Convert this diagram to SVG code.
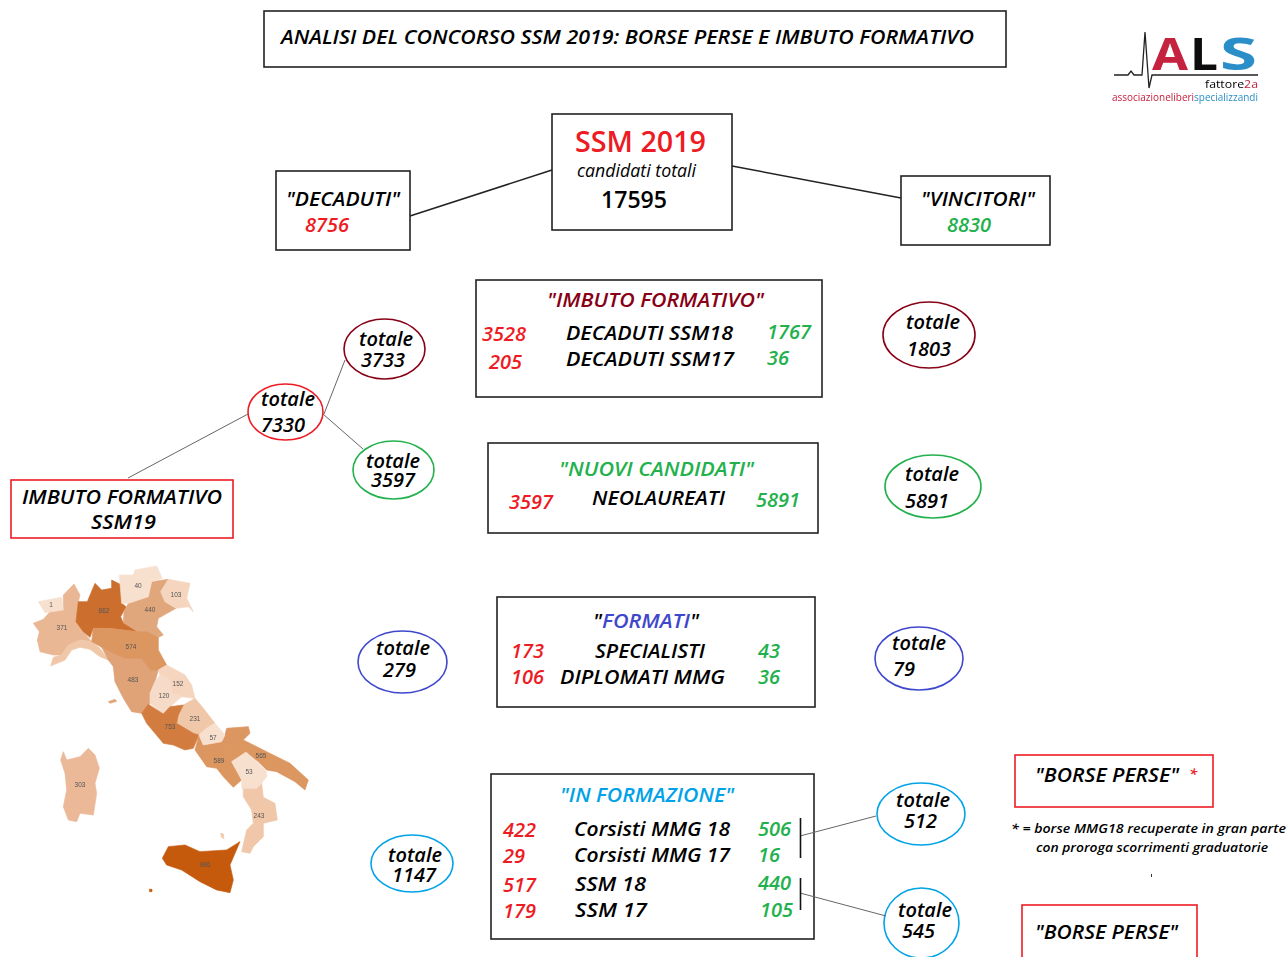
<svg xmlns="http://www.w3.org/2000/svg" width="1288" height="957" viewBox="0 0 1288 957">
<style>
text{font-family:"Open Sans","Noto Sans",sans-serif;font-style:italic;font-weight:600;fill:#000;font-size:20px}
.r{fill:#ed1c24}.g{fill:#22b14c}.d{fill:#880015}.b{fill:#00a2e8}.i{fill:#3f48cc}
.box{fill:#fff;stroke:#222;stroke-width:1.6}
.rbox{fill:#fff;stroke:#ed1c24;stroke-width:1.6}
ellipse{fill:#fff;stroke-width:1.6}
.ed{stroke:#880015}.er{stroke:#ed1c24}.eg{stroke:#22b14c}.ei{stroke:#3f48cc}.eb{stroke:#00a2e8}
.con{fill:none;stroke:#222;stroke-width:1.5}
.thin{fill:none;stroke:#666;stroke-width:1}
.m{fill:currentColor;stroke:currentColor;stroke-width:2;stroke-linejoin:round}
.ml{font-family:"Liberation Sans",sans-serif;font-style:normal;font-weight:400;font-size:6.500px;fill:#555;text-anchor:middle}
</style>
<defs><filter id="soft" x="-5%" y="-5%" width="110%" height="110%"><feGaussianBlur stdDeviation="0.500"/></filter></defs>
<rect width="1288" height="957" fill="#fff"/>
<g id="title"><rect class="box" x="264" y="11" width="742" height="56"/>
<text x="281" y="44" textLength="693" lengthAdjust="spacingAndGlyphs">ANALISI DEL CONCORSO SSM 2019: BORSE PERSE E IMBUTO FORMATIVO</text></g>
<g id="logo" filter="url(#soft)">
<path d="M1114 75H1128L1131 71L1134 75H1142L1145 32L1149 88L1152 75H1258" fill="none" stroke="#222" stroke-width="1.300"/>
<text x="1152" y="70" style="font-style:normal;font-weight:700;font-size:44px;fill:#c5203f" textLength="36" lengthAdjust="spacingAndGlyphs">A</text>
<text x="1190" y="70" style="font-style:normal;font-weight:700;font-size:44px;fill:#111" textLength="28" lengthAdjust="spacingAndGlyphs">L</text>
<text x="1220" y="70" style="font-style:normal;font-weight:700;font-size:44px;fill:#2a8fc8" textLength="37" lengthAdjust="spacingAndGlyphs">S</text>
<text x="1205" y="88" style="font-style:normal;font-weight:400;font-size:11px" textLength="53" lengthAdjust="spacingAndGlyphs">fattore<tspan fill="#c5203f">2a</tspan></text>
<text x="1112" y="101" style="font-style:normal;font-weight:400;font-size:11px;fill:#c5203f" textLength="146" lengthAdjust="spacingAndGlyphs">associazioneliberi<tspan fill="#2a8fc8">specializzandi</tspan></text>
</g>
<g id="ssm2019"><rect class="box" x="552" y="114" width="180" height="116"/>
<text x="575" y="152" class="r" style="font-style:normal;font-size:28px" textLength="131" lengthAdjust="spacingAndGlyphs">SSM 2019</text>
<text x="577" y="177" style="font-weight:400;font-size:18px" textLength="119" lengthAdjust="spacingAndGlyphs">candidati totali</text>
<text x="601" y="208" style="font-style:normal;font-size:24px" textLength="66" lengthAdjust="spacingAndGlyphs">17595</text></g>
<g id="decaduti"><rect class="box" x="276" y="171" width="134" height="79"/>
<text x="286" y="206" textLength="114" lengthAdjust="spacingAndGlyphs">"DECADUTI"</text>
<text x="305" y="232" class="r">8756</text></g>
<g id="vincitori"><rect class="box" x="901" y="176" width="149" height="69"/>
<text x="921" y="206" textLength="114" lengthAdjust="spacingAndGlyphs">"VINCITORI"</text>
<text x="947" y="232" class="g">8830</text></g>
<g id="imbuto"><rect class="box" x="476" y="280" width="346" height="117"/>
<text x="547" y="307" class="d" textLength="217" lengthAdjust="spacingAndGlyphs">"IMBUTO FORMATIVO"</text>
<text x="482" y="341" class="r">3528</text><text x="566" y="340" textLength="167" lengthAdjust="spacingAndGlyphs">DECADUTI SSM18</text><text x="767" y="339" class="g">1767</text>
<text x="489" y="369" class="r">205</text><text x="566" y="366" textLength="168" lengthAdjust="spacingAndGlyphs">DECADUTI SSM17</text><text x="767" y="365" class="g">36</text></g>
<g id="nuovi"><rect class="box" x="488" y="443" width="330" height="90"/>
<text x="559" y="476" class="g" textLength="195" lengthAdjust="spacingAndGlyphs">"NUOVI CANDIDATI"</text>
<text x="509" y="509" class="r">3597</text><text x="592" y="505" textLength="133" lengthAdjust="spacingAndGlyphs">NEOLAUREATI</text><text x="756" y="507" class="g">5891</text></g>
<g id="formati"><rect class="box" x="497" y="597" width="318" height="110"/>
<text x="593" y="628" textLength="106" lengthAdjust="spacingAndGlyphs">"<tspan class="i">FORMATI</tspan>"</text>
<text x="511" y="658" class="r">173</text><text x="595" y="658" textLength="110" lengthAdjust="spacingAndGlyphs">SPECIALISTI</text><text x="758" y="658" class="g">43</text>
<text x="511" y="684" class="r">106</text><text x="560" y="684" textLength="165" lengthAdjust="spacingAndGlyphs">DIPLOMATI MMG</text><text x="758" y="684" class="g">36</text></g>
<g id="formazione"><rect class="box" x="491" y="774" width="323" height="165"/>
<text x="560" y="802" class="b" textLength="174" lengthAdjust="spacingAndGlyphs">"IN FORMAZIONE"</text>
<text x="503" y="837" class="r">422</text><text x="574" y="836" textLength="156" lengthAdjust="spacingAndGlyphs">Corsisti MMG 18</text><text x="758" y="836" class="g">506</text>
<text x="503" y="863" class="r">29</text><text x="574" y="862" textLength="156" lengthAdjust="spacingAndGlyphs">Corsisti MMG 17</text><text x="758" y="862" class="g">16</text>
<text x="503" y="892" class="r">517</text><text x="575" y="891" textLength="71" lengthAdjust="spacingAndGlyphs">SSM 18</text><text x="758" y="890" class="g">440</text>
<text x="503" y="918" class="r">179</text><text x="575" y="917" textLength="72" lengthAdjust="spacingAndGlyphs">SSM 17</text><text x="760" y="917" class="g">105</text></g>
<g id="imbuto19"><rect class="rbox" x="11" y="480" width="222" height="58"/>
<text x="22" y="504" textLength="200" lengthAdjust="spacingAndGlyphs">IMBUTO FORMATIVO</text>
<text x="91" y="529" textLength="65" lengthAdjust="spacingAndGlyphs">SSM19</text></g>
<g id="tot3733"><ellipse class="ed" cx="384.500" cy="349" rx="40.500" ry="30"/><text x="359" y="346">totale</text><text x="361" y="367">3733</text></g>
<g id="tot7330"><ellipse class="er" cx="285.500" cy="412" rx="37.500" ry="28"/><text x="261" y="406">totale</text><text x="261" y="432">7330</text></g>
<g id="tot3597"><ellipse class="eg" cx="393.500" cy="470" rx="40.500" ry="29"/><text x="366" y="468">totale</text><text x="371" y="487">3597</text></g>
<g id="tot1803"><ellipse class="ed" cx="929" cy="335" rx="46" ry="33"/><text x="906" y="329">totale</text><text x="907" y="356">1803</text></g>
<g id="tot5891"><ellipse class="eg" cx="933" cy="486.500" rx="48" ry="31.500"/><text x="905" y="481">totale</text><text x="905" y="508">5891</text></g>
<g id="tot279"><ellipse class="ei" cx="402.500" cy="662" rx="44.500" ry="31"/><text x="376" y="655">totale</text><text x="383" y="677">279</text></g>
<g id="tot79"><ellipse class="ei" cx="919" cy="658.500" rx="44" ry="31.500"/><text x="892" y="650">totale</text><text x="893" y="676">79</text></g>
<g id="tot1147"><ellipse class="eb" cx="412" cy="863.500" rx="41" ry="28.500"/><text x="388" y="862">totale</text><text x="392" y="882">1147</text></g>
<g id="tot512"><ellipse class="eb" cx="921" cy="814" rx="44" ry="31"/><text x="896" y="807">totale</text><text x="904" y="828">512</text></g>
<g id="tot545"><ellipse class="eb" cx="921.500" cy="923" rx="37.500" ry="35"/><text x="898" y="917">totale</text><text x="902" y="938">545</text></g>
<g id="borse1"><rect class="rbox" x="1015" y="755" width="198" height="52"/>
<text x="1035" y="782" textLength="144" lengthAdjust="spacingAndGlyphs">"BORSE PERSE"</text><text x="1189" y="779" class="r" style="font-size:15px">*</text></g>
<g id="borse2"><rect class="rbox" x="1022" y="905" width="175" height="70"/>
<text x="1035" y="939" textLength="143" lengthAdjust="spacingAndGlyphs">"BORSE PERSE"</text></g>
<g id="nota">
<text x="1011" y="833" style="font-size:13px" textLength="275" lengthAdjust="spacingAndGlyphs">* = borse MMG18 recuperate in gran parte</text>
<text x="1036" y="852" style="font-size:13px" textLength="232" lengthAdjust="spacingAndGlyphs">con proroga scorrimenti graduatorie</text>
<path d="M1151.500 874V877" stroke="#333" fill="none"/>
</g>
<g id="mappa">
<g transform="translate(0,560) scale(.3333)" filter="url(#soft)">
<path class="m" color="#e9b794" d="M100 190L130 178L150 155L190 150L190 105L222 72L240 105L235 125L228 185L250 215L275 245L245 240L205 255L185 285L160 285L120 275L112 240L118 215Z"/>
<path class="m" color="#f8e0cf" d="M115 125L185 112L190 150L135 158Z"/>
<path class="m" color="#f0c7a8" d="M152 318L160 292L185 285L205 255L240 240L275 245L300 265L325 300L300 290L270 268L240 262L215 270L195 300Z"/>
<path class="m" color="#e1a77c" d="M372 155L385 130L445 110L455 65L505 58L482 95L495 125L528 145L475 175L470 200L490 225L475 232L440 215L410 215L370 190Z"/>
<path class="m" color="#cc6e2e" d="M235 125L262 125L285 70L305 90L335 85L335 60L365 75L365 130L378 140L362 170L370 190L410 215L330 205L280 205L270 232L250 215L228 185Z"/>
<path class="m" color="#f8e0cf" d="M358 45L400 45L405 30L470 18L487 55L455 65L445 110L385 130L365 130Z"/>
<path class="m" color="#f5d5be" d="M482 95L505 58L570 70L560 115L570 135L580 155L565 140L528 145L495 125Z"/>
<path class="m" color="#e0a277" d="M305 262L340 280L375 295L425 295L450 330L475 330L465 365L450 400L450 430L425 460L395 455L370 415L345 365L340 320L325 300Z"/>
<path class="m" color="#dc9660" d="M275 245L280 205L330 205L410 215L440 215L475 232L475 270L500 315L475 330L450 330L425 295L375 295L340 280L305 262Z"/>
<path class="m" color="#f5d5be" d="M475 330L500 315L555 345L575 375L585 415L545 410L515 400L510 360L480 345Z"/>
<path class="m" color="#f6dbc8" d="M465 365L480 345L510 360L515 400L545 410L510 440L490 462L450 430L450 400Z"/>
<path class="m" color="#f0c7a8" d="M585 415L610 445L645 490L620 505L597 525L580 520L530 490L535 465L550 435Z"/>
<path class="m" color="#d27c3f" d="M425 460L445 433L490 462L510 440L550 435L535 465L530 490L580 520L597 525L580 565L555 570L520 555L490 550L440 490Z"/>
<path class="m" color="#dc9660" d="M597 525L610 555L665 545L680 575L695 605L725 660L700 682L670 650L650 625L620 620L585 570Z"/>
<path class="m" color="#dc9660" d="M675 525L680 505L745 500L750 520L730 540L800 575L870 610L925 660L915 690L885 665L830 635L800 630L775 605L740 578L695 605L680 575L665 545Z"/>
<path class="m" color="#f8e0cf" d="M597 525L620 505L645 490L675 525L665 545L610 555Z"/>
<path class="m" color="#f0c7a8" d="M730 685L770 685L785 670L790 712L825 730L832 780L790 790L790 830L760 860L750 880L725 875L740 810L760 790L755 750L730 710Z"/>
<path class="m" color="#f8e0cf" d="M695 605L738 576L770 605L800 635L800 650L785 670L770 685L725 685L725 660Z"/>
<path class="m" color="#c55a11" d="M487 895L505 860L555 855L600 875L680 870L720 845L690 915L700 960L690 998L650 990L600 965L545 930L500 915Z"/>
<path class="m" color="#ebb898" d="M182 600L190 575L200 600L240 590L265 565L285 585L298 625L285 670L290 700L280 765L240 760L230 785L205 780L190 740L200 690L195 640Z"/>
<path class="m" color="#e0a277" d="M325 425L345 418L350 424L330 430Z"/>
<path class="m" color="#c55a11" d="M448 988L456 988L456 995L449 995Z"/>
<path class="m" color="#f0c7a8" d="M662 820L670 822L672 836L665 832Z"/>
</g>
<g filter="url(#soft)">
<text class="ml" x="51" y="607">1</text><text class="ml" x="62" y="630">371</text><text class="ml" x="104" y="613">862</text><text class="ml" x="138" y="588">40</text><text class="ml" x="176" y="597">103</text><text class="ml" x="150" y="612">440</text><text class="ml" x="131" y="649">574</text><text class="ml" x="133" y="682">483</text><text class="ml" x="178" y="686">152</text><text class="ml" x="164" y="698">120</text><text class="ml" x="195" y="721">231</text><text class="ml" x="170" y="729">753</text><text class="ml" x="213" y="740">57</text><text class="ml" x="219" y="763">589</text><text class="ml" x="261" y="758">565</text><text class="ml" x="249" y="774">53</text><text class="ml" x="259" y="818">243</text><text class="ml" x="80" y="787">303</text><text class="ml" x="205" y="867">986</text>
</g>
</g>
<g id="connectors">
<path class="con" d="M410 216L552 170M732 166L901 198"/>
<path class="thin" d="M128 478L248 414M324 414L345 360M323 414L363 449"/>
<path class="thin" d="M800 836L876 816M800 893L886 916"/>
<path d="M800.500 818V858M800.500 878V910" fill="none" stroke="#111" stroke-width="1.600"/>
</g>
</svg>
